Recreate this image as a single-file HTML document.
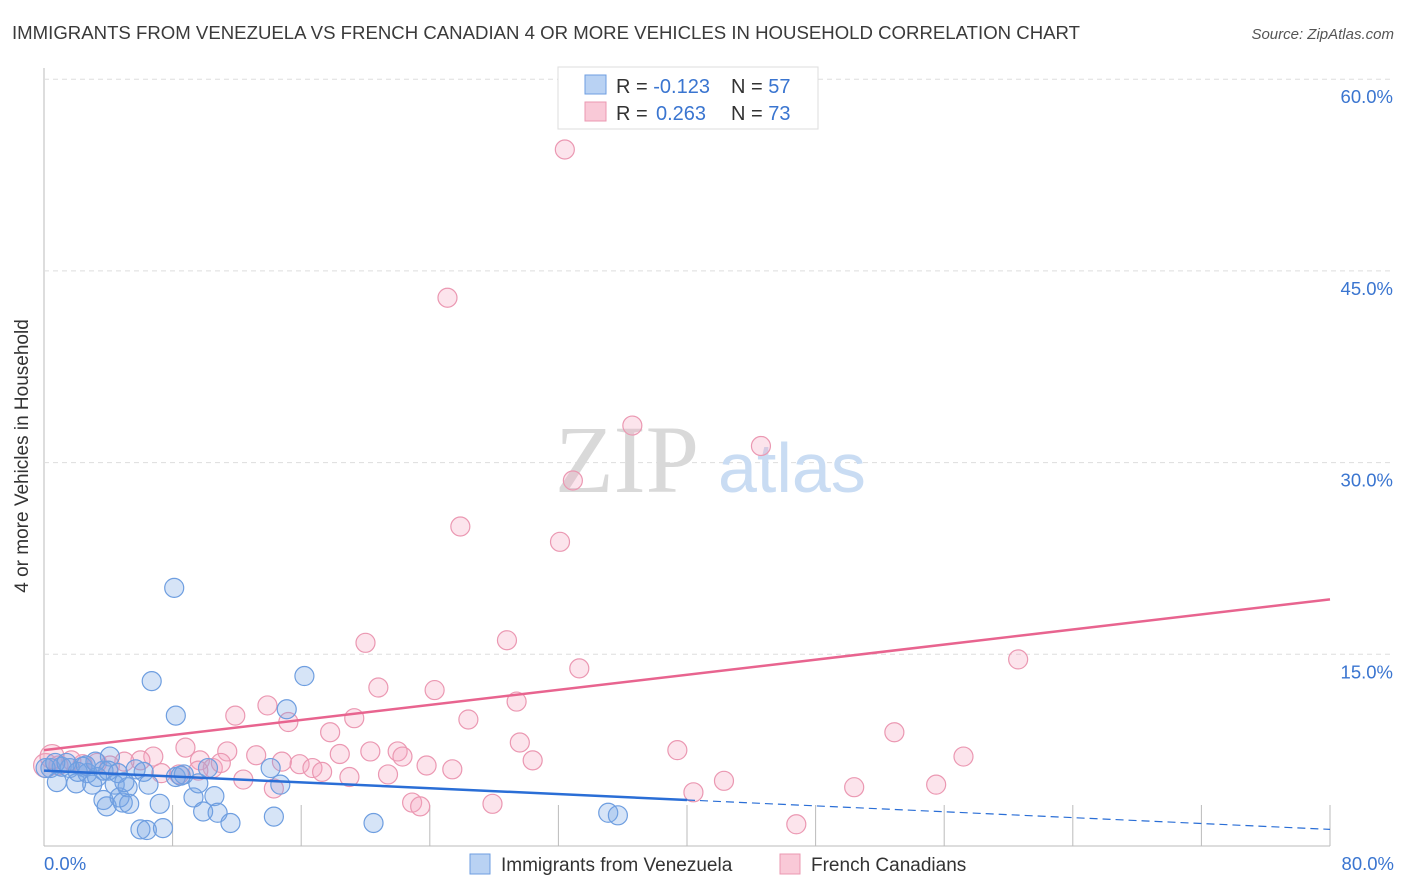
<!DOCTYPE html>
<html><head><meta charset="utf-8"><style>
body{margin:0;background:#fff;font-family:"Liberation Sans",sans-serif}
svg{display:block}
</style></head><body>
<svg width="1406" height="892" xmlns="http://www.w3.org/2000/svg">
<text x="12" y="39" font-size="18.5" fill="#3a3a3a" textLength="1068" lengthAdjust="spacingAndGlyphs">IMMIGRANTS FROM VENEZUELA VS FRENCH CANADIAN 4 OR MORE VEHICLES IN HOUSEHOLD CORRELATION CHART</text>
<text x="1394" y="39" font-size="15" fill="#555" font-style="italic" text-anchor="end">Source: ZipAtlas.com</text>
<g id="grid"></g>
<text x="555" y="492" font-size="96" fill="#d9d9d9" font-family="Liberation Serif,serif">ZIP</text>
<text x="718" y="492" font-size="70" fill="#c9dcf3">atlas</text>
<g id="pts"></g>
<g id="lines"></g>
<text x="28" y="456" font-size="19" fill="#333" text-anchor="middle" transform="rotate(-90 28 456)">4 or more Vehicles in Household</text>
<g>
<rect x="558" y="67" width="260" height="62" fill="#fff" stroke="#ddd"/>
<rect x="585" y="75" width="21" height="19" fill="#b9d2f3" stroke="#6e9ee0"/>
<rect x="585" y="102" width="21" height="19" fill="#f9c9d7" stroke="#eb98b2"/>
<text x="616" y="93" font-size="20" fill="#333">R = <tspan fill="#3a75d0">-0.123</tspan><tspan x="731">N = </tspan><tspan fill="#3a75d0">57</tspan></text>
<text x="616" y="120" font-size="20" fill="#333">R = <tspan fill="#3a75d0" x="656">0.263</tspan><tspan x="731">N = </tspan><tspan fill="#3a75d0">73</tspan></text>
</g>
<g>
<rect x="470" y="854" width="20" height="20" fill="#b9d2f3" stroke="#6e9ee0"/>
<text x="501" y="871" font-size="19" fill="#333">Immigrants from Venezuela</text>
<rect x="780" y="854" width="20" height="20" fill="#f9c9d7" stroke="#eb98b2"/>
<text x="811" y="871" font-size="19" fill="#333">French Canadians</text>
</g>
</svg>
<script>
const xTicks=[0,8,16,24,32,40,48,56,64,72,80];
const yTicks=[15,30,45,60];
const yTickLabels=["15.0%","30.0%","45.0%","60.0%"];
const xLabels=["0.0%","80.0%"];
const blueX=[0.4,0.8,1.1,1.6,2.0,2.4,2.7,3.0,3.3,3.7,3.7,3.9,4.1,4.4,4.7,4.9,5.2,5.3,6.0,6.2,6.4,6.5,6.7,7.2,7.4,8.2,8.1,8.2,8.7,9.3,9.6,9.9,10.2,10.6,10.8,11.6,14.1,14.3,14.7,15.1,16.2,20.5,35.1,35.7,0.1,0.7,1.4,2.1,2.6,3.2,4.0,4.6,5.0,5.7,8.5];
const blueY=[6.1,5.0,6.2,6.1,4.9,6.2,5.7,4.8,5.4,5.9,3.6,3.1,7.0,4.8,3.8,3.4,4.6,3.3,1.3,5.8,1.25,4.8,12.9,3.3,1.4,10.2,20.2,5.4,5.6,3.8,4.9,2.7,6.1,3.9,2.6,1.8,6.1,2.3,4.8,10.7,13.3,1.8,2.6,2.4,6.1,6.5,6.5,5.8,6.3,6.6,5.9,5.7,5.0,6.0,5.5];
const pinkX=[32.4,25.1,36.6,44.6,32.9,25.9,32.1,60.6,20.0,28.8,33.3,20.8,24.3,29.4,11.9,13.9,15.2,19.3,26.4,17.8,52.9,29.6,39.4,57.2,30.4,20.3,22.0,22.3,18.4,8.8,11.4,13.2,14.8,15.9,16.7,17.3,19.0,21.4,23.8,25.4,12.4,14.3,22.9,23.4,27.9,42.3,40.4,50.4,55.5,46.8,6.8,6.0,5.0,4.1,3.3,2.4,1.7,0.9,7.3,9.7,10.5,11.0,8.4,9.6,0.1,0.5];
const pinkY=[54.5,42.9,32.9,31.3,28.6,25.0,23.8,14.6,15.9,16.1,13.9,12.4,12.2,11.3,10.2,11.0,9.7,10.0,9.9,8.9,8.9,8.1,7.5,7.0,6.7,7.4,7.4,7.0,7.2,7.7,7.4,7.1,6.6,6.4,6.1,5.8,5.4,5.6,6.3,6.0,5.2,4.5,3.4,3.1,3.3,5.1,4.2,4.6,4.8,1.7,7.0,6.7,6.6,6.3,6.5,6.4,6.7,6.3,5.7,6.7,6.1,6.5,5.6,5.9,6.3,7.0];
const blueTrend=[5.9,-0.0575];
const pinkTrend=[7.5,0.1475];
const X=v=>44+v/80*1286, Y=v=>846-v/15*191.7;
const NS="http://www.w3.org/2000/svg";
function mk(t,a,p){const e=document.createElementNS(NS,t);for(const k in a)e.setAttribute(k,a[k]);p.appendChild(e);return e;}
const grid=document.getElementById('grid');
mk('line',{x1:44,y1:68,x2:44,y2:846,stroke:'#bbb'},grid);
mk('line',{x1:44,y1:846,x2:1330,y2:846,stroke:'#bbb'},grid);
yTicks.forEach((t,i)=>{
 const g=mk('line',{x1:44,y1:Y(t),x2:1394,y2:Y(t),stroke:'#ddd','stroke-dasharray':'5,4'},grid);
 
 
 const l=mk('text',{x:1393,y:Y(t)+24,'font-size':18.5,fill:'#3a75d0','text-anchor':'end'},grid);
 l.textContent=yTickLabels[i];
 
 
});
xTicks.forEach(t=>{
 const g=mk('line',{x1:X(t),y1:805,x2:X(t),y2:846,stroke:'#bbb'},grid);
 
 
});
[[0,44,'start'],[80,1394,'end']].forEach((d,i)=>{
 const l=mk('text',{x:d[1],y:870,'font-size':18.5,fill:'#3a75d0','text-anchor':d[2]},grid);
 l.textContent=xLabels[i];
 
 
});
const pts=document.getElementById('pts');
pinkX.forEach((x,i)=>{
 const c=mk('circle',{cx:X(x),cy:Y(pinkY[i]),r:i>=64?12:9.5,fill:'rgba(245,165,192,0.3)',stroke:'#eb98b2','stroke-width':1.2},pts);
 
 
});
blueX.forEach((x,i)=>{
 const c=mk('circle',{cx:X(x),cy:Y(blueY[i]),r:9.5,fill:'rgba(120,165,230,0.3)',stroke:'#6e9ee0','stroke-width':1.2},pts);
 
 
});
const ln=document.getElementById('lines');
const by=v=>blueTrend[0]+blueTrend[1]*v, py=v=>pinkTrend[0]+pinkTrend[1]*v;
let a=mk('line',{x1:X(0),y1:Y(py(0)),x2:X(80),y2:Y(py(80)),stroke:'#e8648f','stroke-width':2.5},ln);


a=mk('line',{x1:X(0),y1:Y(by(0)),x2:X(40),y2:Y(by(40)),stroke:'#2a6ed6','stroke-width':2.5},ln);


a=mk('line',{x1:X(40),y1:Y(by(40)),x2:X(80),y2:Y(by(80)),stroke:'#2a6ed6','stroke-width':1.2,'stroke-dasharray':'8,5'},ln);


</script>
</body></html>
